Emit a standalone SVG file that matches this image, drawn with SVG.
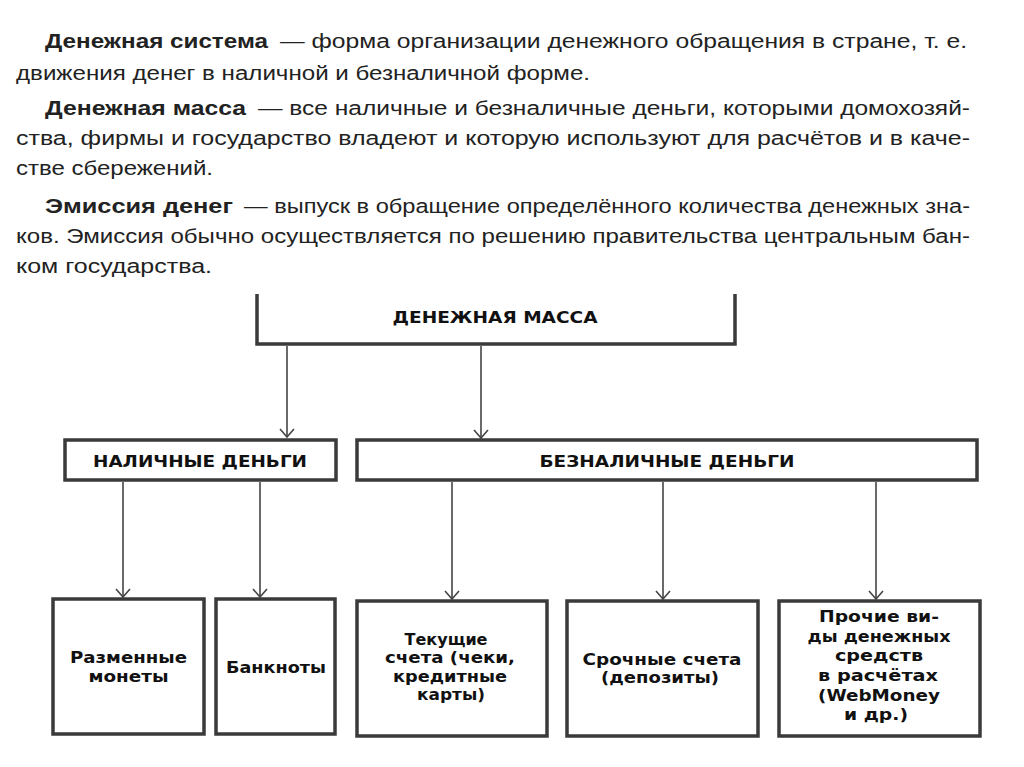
<svg xmlns="http://www.w3.org/2000/svg" width="1024" height="767" viewBox="0 0 1024 767">
<defs>
<style>
.p{font-family:"Liberation Sans",Arial,sans-serif;font-size:19.5px;fill:#222}
.b{font-weight:bold}
.box{fill:#fff;stroke:#3a3a3a;stroke-width:3.5}
.lbl{font-family:"DejaVu Sans","Liberation Sans",Arial,sans-serif;font-size:15.5px;font-weight:bold;fill:#111;text-anchor:middle}
.con{fill:none;stroke:#444;stroke-width:1.6}
</style>
<marker id="ah" viewBox="-1 -8 10 16" refX="8" refY="0" markerWidth="10" markerHeight="16" markerUnits="userSpaceOnUse" orient="auto">
<path d="M0,-7 L8,0 L0,7" fill="none" stroke="#444" stroke-width="1.6"/>
</marker>
</defs>
<rect width="1024" height="767" fill="#fff"/>

<g id="definitions">
<text class="p b" x="45" y="48" textLength="223" lengthAdjust="spacingAndGlyphs">Денежная система</text>
<text class="p" x="280" y="48" textLength="687" lengthAdjust="spacingAndGlyphs">— форма организации денежного обращения в стране, т. е.</text>
<text class="p" x="16" y="80" textLength="574" lengthAdjust="spacingAndGlyphs">движения денег в наличной и безналичной форме.</text>
<text class="p b" x="45" y="115" textLength="201" lengthAdjust="spacingAndGlyphs">Денежная масса</text>
<text class="p" x="258" y="115" textLength="712" lengthAdjust="spacingAndGlyphs">— все наличные и безналичные деньги, которыми домохозяй-</text>
<text class="p" x="16" y="145" textLength="954" lengthAdjust="spacingAndGlyphs">ства, фирмы и государство владеют и которую используют для расчётов и в каче-</text>
<text class="p" x="16" y="175" textLength="197" lengthAdjust="spacingAndGlyphs">стве сбережений.</text>
<text class="p b" x="45" y="213" textLength="188" lengthAdjust="spacingAndGlyphs">Эмиссия денег</text>
<text class="p" x="244" y="213" textLength="726" lengthAdjust="spacingAndGlyphs">— выпуск в обращение определённого количества денежных зна-</text>
<text class="p" x="16" y="243" textLength="954" lengthAdjust="spacingAndGlyphs">ков. Эмиссия обычно осуществляется по решению правительства центральным бан-</text>
<text class="p" x="16" y="273" textLength="196" lengthAdjust="spacingAndGlyphs">ком государства.</text>
</g>

<g id="connectors">
<line class="con" x1="287" y1="346" x2="287" y2="437" marker-end="url(#ah)"/>
<line class="con" x1="481" y1="346" x2="481" y2="438" marker-end="url(#ah)"/>
<line class="con" x1="123" y1="482" x2="123" y2="597" marker-end="url(#ah)"/>
<line class="con" x1="260" y1="482" x2="260" y2="597" marker-end="url(#ah)"/>
<line class="con" x1="452" y1="482" x2="452" y2="599" marker-end="url(#ah)"/>
<line class="con" x1="663" y1="482" x2="663" y2="599" marker-end="url(#ah)"/>
<line class="con" x1="876" y1="482" x2="876" y2="599" marker-end="url(#ah)"/>
</g>

<g id="money-supply">
<path d="M257,294 L257,344 L735,344 L735,294" fill="none" stroke="#3a3a3a" stroke-width="3.5"/>
<text class="lbl" x="495" y="323" textLength="205" lengthAdjust="spacingAndGlyphs">ДЕНЕЖНАЯ МАССА</text>
</g>

<g id="cash">
<rect class="box" x="65" y="440" width="271" height="40"/>
<text class="lbl" x="200" y="467" textLength="214" lengthAdjust="spacingAndGlyphs">НАЛИЧНЫЕ ДЕНЬГИ</text>
</g>

<g id="noncash">
<rect class="box" x="357" y="440" width="620" height="40"/>
<text class="lbl" x="667" y="467" textLength="255" lengthAdjust="spacingAndGlyphs">БЕЗНАЛИЧНЫЕ ДЕНЬГИ</text>
</g>

<g id="coins">
<rect class="box" x="53" y="599" width="151" height="135"/>
<text class="lbl" x="128.5" y="663" textLength="117" lengthAdjust="spacingAndGlyphs">Разменные</text>
<text class="lbl" x="128.5" y="682" textLength="80" lengthAdjust="spacingAndGlyphs">монеты</text>
</g>

<g id="banknotes">
<rect class="box" x="216" y="599" width="119" height="135"/>
<text class="lbl" x="276" y="673" textLength="100" lengthAdjust="spacingAndGlyphs">Банкноты</text>
</g>

<g id="current-accounts">
<rect class="box" x="357" y="601" width="190" height="135"/>
<text class="lbl" x="446" y="645" textLength="83" lengthAdjust="spacingAndGlyphs">Текущие</text>
<text class="lbl" x="450" y="663" textLength="130" lengthAdjust="spacingAndGlyphs">счета (чеки,</text>
<text class="lbl" x="450" y="682" textLength="114" lengthAdjust="spacingAndGlyphs">кредитные</text>
<text class="lbl" x="451" y="700" textLength="68" lengthAdjust="spacingAndGlyphs">карты)</text>
</g>

<g id="time-deposits">
<rect class="box" x="567" y="601" width="191" height="135"/>
<text class="lbl" x="662" y="665" textLength="159" lengthAdjust="spacingAndGlyphs">Срочные счета</text>
<text class="lbl" x="660" y="683" textLength="118" lengthAdjust="spacingAndGlyphs">(депозиты)</text>
</g>

<g id="other-means">
<rect class="box" x="779" y="601" width="201" height="135"/>
<text class="lbl" x="879" y="622" textLength="120" lengthAdjust="spacingAndGlyphs">Прочие ви-</text>
<text class="lbl" x="879" y="641.5" textLength="143" lengthAdjust="spacingAndGlyphs">ды денежных</text>
<text class="lbl" x="879" y="661" textLength="88" lengthAdjust="spacingAndGlyphs">средств</text>
<text class="lbl" x="878" y="681" textLength="120" lengthAdjust="spacingAndGlyphs">в расчётах</text>
<text class="lbl" x="879" y="700.5" textLength="122" lengthAdjust="spacingAndGlyphs">(WebMoney</text>
<text class="lbl" x="876" y="720" textLength="64" lengthAdjust="spacingAndGlyphs">и др.)</text>
</g>
</svg>
